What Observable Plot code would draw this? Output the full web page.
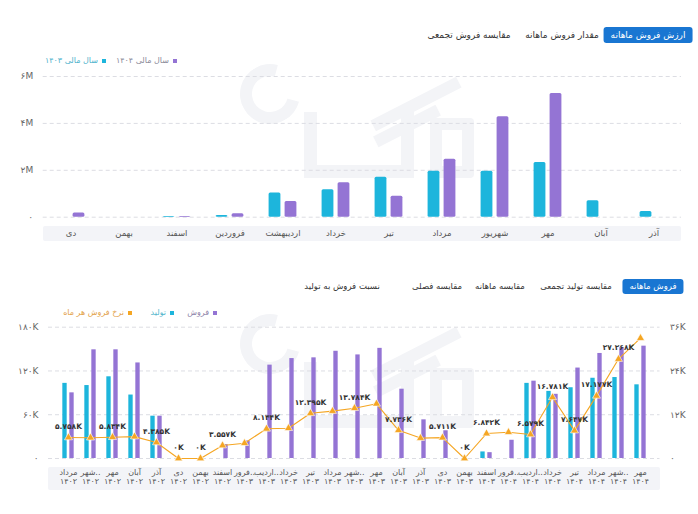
<!DOCTYPE html>
<html lang="fa">
<head>
<meta charset="utf-8">
<script src="https://cdn.jsdelivr.net/npm/d3@7"></script>
<script src="https://cdn.jsdelivr.net/npm/@observablehq/plot@0.6"></script>
<style>
  body { margin: 0; background: #fff; font-family: "DejaVu Sans", sans-serif; width: 698px; height: 514px; position: relative; overflow: hidden; }
  .tab { position: absolute; color: #333; white-space: nowrap; direction: rtl; transform: translateX(-50%); padding: 0 7px; }
  .tab.top { font-size: 9px; line-height: 16px; height: 16px; top: 27px; }
  .tab.bottom { font-size: 8.5px; line-height: 15px; height: 15px; top: 279px; }
  .tab.active { background: #1976d2; color: #fff; border-radius: 3px; }
  .legend-item { position: absolute; display: flex; direction: rtl; align-items: center; gap: 4px; font-size: 8px; white-space: nowrap; }
  .legend-item .sw { width: 4px; height: 4px; display: inline-block; }
  .band { position: absolute; background: #f3f4f8; border-radius: 2px; }
  .wm { position: absolute; background: #f3f4f7; }
  .wm.ring { background: none; border: 12px solid #f3f4f7; border-radius: 50%; border-right-color: transparent; transform: rotate(-30deg); }
  .wm.loop { background: none; border: 12px solid #f3f4f7; border-radius: 4px; }
  .chart { position: absolute; left: 0; }
</style>
</head>
<body>
<!-- tabs of the sales-value panel -->
<div class="tab top" style="left:469px;">مقایسه فروش تجمعی</div>
<div class="tab top" style="left:562px;">مقدار فروش ماهانه</div>
<div class="tab top active" style="left:648px;">ارزش فروش ماهانه</div>

<!-- tabs of the production/sales panel -->
<div class="tab bottom" style="left:342px;">نسبت فروش به تولید</div>
<div class="tab bottom" style="left:437px;">مقایسه فصلی</div>
<div class="tab bottom" style="left:500px;">مقایسه ماهانه</div>
<div class="tab bottom" style="left:576px;">مقایسه تولید تجمعی</div>
<div class="tab bottom active" style="left:653px;">فروش ماهانه</div>

<div id="brand"></div>

<!-- axis label bands -->
<div class="band" style="left:42.7px;top:226px;width:638.3px;height:15px;"></div>
<div class="band" style="left:48px;top:467px;width:611.5px;height:23px;"></div>

<div id="legend1"></div>
<div id="legend2"></div>
<div id="chart1" class="chart" style="top:66px;"></div>
<div id="chart2" class="chart" style="top:318px;"></div>

<script>
// ---- monthly sales value (million), fiscal years 1403 and 1404 ----
const valueMonths = ["دی", "بهمن", "اسفند", "فروردین", "اردیبهشت", "خرداد", "تیر", "مرداد", "شهریور", "مهر", "آبان", "آذر"];
const value1403 = [0, 0, 0.03, 0.07, 1.03, 1.17, 1.70, 1.96, 1.96, 2.33, 0.70, 0.24];
const value1404 = [0.18, 0, 0.03, 0.15, 0.67, 1.47, 0.89, 2.47, 4.28, 5.28, null, null];
const valueTicks = [0, 2, 4, 6];
const valueSeries = ["سال مالی ۱۴۰۴", "سال مالی ۱۴۰۳"];

// ---- monthly production / sales (thousand) and sales rate per month (thousand) ----
const salesMonths = ["مرداد", "شهر..", "مهر", "آبان", "آذر", "دی", "بهمن", "اسفند",
  "فرور..", "اردیب..", "خرداد", "تیر", "مرداد", "شهر..", "مهر", "آبان", "آذر", "دی", "بهمن", "اسفند",
  "فرور..", "اردیب..", "خرداد", "تیر", "مرداد", "شهر..", "مهر"];
const salesYears = ["۱۴۰۲", "۱۴۰۲", "۱۴۰۲", "۱۴۰۲", "۱۴۰۲", "۱۴۰۲", "۱۴۰۲", "۱۴۰۲",
  "۱۴۰۳", "۱۴۰۳", "۱۴۰۳", "۱۴۰۳", "۱۴۰۳", "۱۴۰۳", "۱۴۰۳", "۱۴۰۳", "۱۴۰۳", "۱۴۰۳", "۱۴۰۳", "۱۴۰۳",
  "۱۴۰۴", "۱۴۰۴", "۱۴۰۴", "۱۴۰۴", "۱۴۰۴", "۱۴۰۴", "۱۴۰۴"];
const production = [103, 100, 112, 87, 58, 0, 0, 0,
  0, 0, 0, 0, 0, 0, 0, 0, 0, 0, 0, 9,
  0, 103, 92, 97, 110, 111, 101];
const sales = [90, 149, 149, 131, 58, 0, 0, 19,
  24, 128, 137, 138, 147, 142, 151, 95, 53, 38, 0, 8,
  25, 106, 88, 124, 144, 152, 154];
const salesRate = [5.758, 5.7, 5.834, 6.0, 4.385, 0, 0, 3.557,
  4.2, 8.144, 8.3, 12.395, 13.0, 13.784, 15.0, 7.736, 5.6, 5.711, 0, 6.842,
  7.2, 6.579, 16.781, 7.647, 17.177, 27.268, 33.0];
const labeledRate = [0, 2, 4, 5, 6, 7, 9, 11, 13, 15, 17, 18, 19, 21, 22, 23, 24, 25];
const countTicks = [0, 60, 120, 180];
const rateTicks = [0, 12, 24, 36];
const salesSeries = ["فروش", "تولید", "نرخ فروش هر ماه"];

const PURPLE = "#9474d4";
const CYAN = "#1db5dc";
const ORANGE = "#f5a623";

const faDigits = "۰۱۲۳۴۵۶۷۸۹";
const fa = (s) => String(s).replace(/\d/g, (d) => faDigits[d]);

// faint brand logo behind each panel, built from plain blocks
function brand(dy) {
  const host = document.getElementById("brand");
  const parts = [
    ["ring", 240, 64, 60, 60, 0],
    ["", 304, 112, 13, 66, 0],
    ["", 304, 165, 110, 13, 0],
    ["", 401, 112, 13, 66, 0],
    ["", 368, 98, 96, 12, -27],
    ["", 372, 120, 70, 12, -27],
    ["loop", 430, 118, 44, 60, 0]
  ];
  for (const [cls, x, y, w, h, rot] of parts) {
    const el = document.createElement("div");
    el.className = "wm " + cls;
    el.style.left = x + "px";
    el.style.top = (y + dy) + "px";
    el.style.width = (cls ? w - 24 : w) + "px";
    el.style.height = (cls ? h - 24 : h) + "px";
    if (rot) el.style.transform = `rotate(${rot}deg)`;
    host.appendChild(el);
  }
}
brand(0);
brand(250);

function legend(id, items, rights, top) {
  const host = document.getElementById(id);
  items.forEach((it, i) => {
    const el = document.createElement("div");
    el.className = "legend-item";
    el.style.right = rights[i] + "px";
    el.style.top = top + "px";
    el.innerHTML = `<span class="sw" style="background:${it.color}"></span><span style="color:${it.text}">${it.label}</span>`;
    host.appendChild(el);
  });
}

legend("legend1", [
  {label: valueSeries[0], color: PURPLE, text: "#8a8a99"},
  {label: valueSeries[1], color: CYAN, text: "#4fb3cc"}
], [521, 592], 56);

legend("legend2", [
  {label: salesSeries[0], color: PURPLE, text: "#8d83a8"},
  {label: salesSeries[1], color: CYAN, text: "#52b6cc"},
  {label: salesSeries[2], color: ORANGE, text: "#e3a24a"}
], [481, 524, 566], 308);

// ---- chart 1: monthly sales value ----
{
  const W = 698, H = 180, ml = 42.7, mr = 17, mt = 10, mb = 29.3;
  const bw = (W - ml - mr) / valueMonths.length;
  const rows1403 = valueMonths.map((m, i) => ({month: m, value: value1403[i]})).filter(d => d.value);
  const rows1404 = valueMonths.map((m, i) => ({month: m, value: value1404[i]})).filter(d => d.value);
  const chart = Plot.plot({
    width: W, height: H,
    marginLeft: ml, marginRight: mr, marginTop: mt, marginBottom: mb,
    style: {background: "transparent", fontFamily: "DejaVu Sans, sans-serif", color: "#666"},
    x: {type: "band", domain: valueMonths, padding: 0, label: null},
    y: {domain: [0, 6], label: null},
    marks: [
      Plot.gridY(valueTicks, {stroke: "#dcdde3", strokeOpacity: 1, strokeDasharray: "4,3"}),
      Plot.barY(rows1403, {x: "month", y: "value", fill: CYAN, insetLeft: bw / 2 - 14, insetRight: bw / 2 + 2, rx: 1.5}),
      Plot.barY(rows1404, {x: "month", y: "value", fill: PURPLE, insetLeft: bw / 2 + 2, insetRight: bw / 2 - 14, rx: 1.5}),
      Plot.axisY({ticks: valueTicks, tickSize: 0, tickPadding: 10, fontSize: 9, tickFormat: d => d === 0 ? "۰" : fa(d) + "M"}),
      Plot.axisX({tickSize: 0, tickPadding: 13, fontSize: 8.5, fill: "#555"})
    ]
  });
  document.getElementById("chart1").appendChild(chart);
}

// ---- chart 2: monthly production, sales and sales rate ----
{
  const W = 698, H = 180, ml = 48, mr = 38.5, mt = 8.7, mb = 40;
  const bw = (W - ml - mr) / salesMonths.length;
  const keys = salesMonths.map((m, i) => m + "\n" + salesYears[i]);
  const rateScale = countTicks[countTicks.length - 1] / rateTicks[rateTicks.length - 1];
  const rows = keys.map((k, i) => ({key: k, production: production[i], sales: sales[i], rate: salesRate[i], i}));
  const labeled = rows.filter(d => labeledRate.includes(d.i));
  const rateLabel = (v) => fa(v === 0 ? "0K" : v.toFixed(3) + "K");
  const chart = Plot.plot({
    width: W, height: H,
    marginLeft: ml, marginRight: mr, marginTop: mt, marginBottom: mb,
    style: {background: "transparent", fontFamily: "DejaVu Sans, sans-serif", color: "#666"},
    x: {type: "band", domain: keys, padding: 0, label: null},
    y: {domain: [0, 180], label: null},
    marks: [
      Plot.gridY(countTicks, {stroke: "#dcdde3", strokeOpacity: 1, strokeDasharray: "4,3"}),
      Plot.barY(rows.filter(d => d.production), {x: "key", y: "production", fill: CYAN, insetLeft: bw / 2 - 6, insetRight: bw / 2 + 1}),
      Plot.barY(rows.filter(d => d.sales), {x: "key", y: "sales", fill: PURPLE, insetLeft: bw / 2 + 1, insetRight: bw / 2 - 6}),
      Plot.line(rows, {x: "key", y: d => d.rate * rateScale, stroke: ORANGE, strokeWidth: 1.1}),
      Plot.dot(rows, {x: "key", y: d => d.rate * rateScale, symbol: "triangle", r: 3, fill: ORANGE, stroke: "white", strokeWidth: 0.6}),
      Plot.text(labeled, {x: "key", y: d => d.rate * rateScale, text: d => rateLabel(d.rate), dy: -11, fontSize: 7.5, fontWeight: "bold", fill: "#333"}),
      Plot.axisY({ticks: countTicks, tickSize: 0, tickPadding: 10, fontSize: 9, tickFormat: d => d === 0 ? "۰" : fa(d) + "K"}),
      Plot.axisY({ticks: countTicks, anchor: "right", tickSize: 0, tickPadding: 10, fontSize: 9, tickFormat: d => d === 0 ? "۰" : fa(d / rateScale) + "K"}),
      Plot.axisX({tickSize: 0, tickPadding: 11, fontSize: 8, lineHeight: 1.05, fill: "#555"})
    ]
  });
  document.getElementById("chart2").appendChild(chart);
}
</script>
</body>
</html>
